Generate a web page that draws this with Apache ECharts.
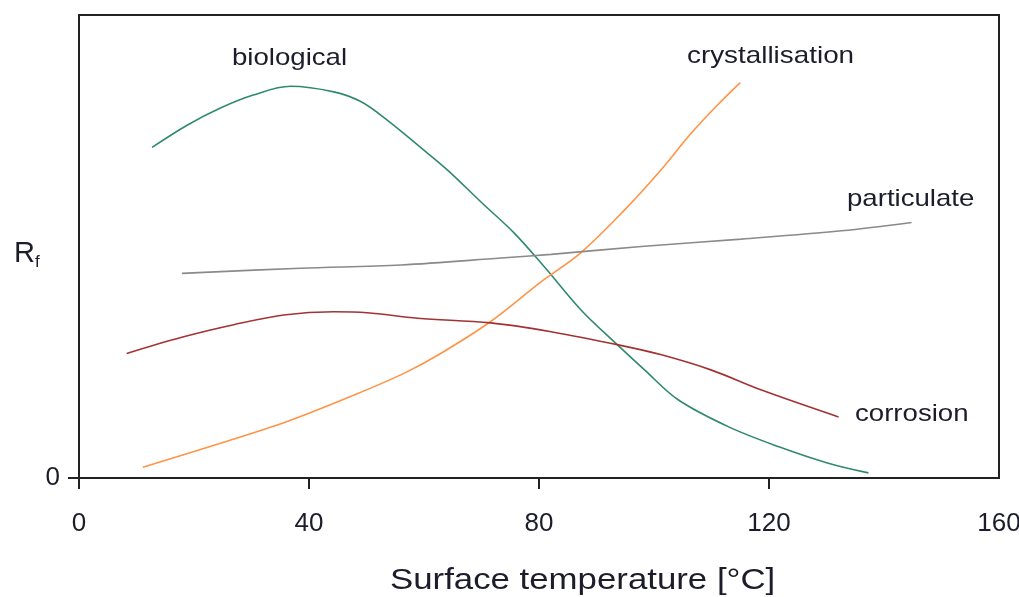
<!DOCTYPE html>
<html>
<head>
<meta charset="utf-8">
<script src="https://cdn.jsdelivr.net/npm/echarts@6/dist/echarts.min.js"></script>
<style>
  html, body { margin: 0; padding: 0; background: #fff; }
  #chart { width: 1019px; height: 597px; }
</style>
</head>
<body>
<div id="chart"></div>
<script>
// values: [temperature, Rf (relative, 0-100)]
var biological = [
  [12.7, 71.4], [18.8, 76.2], [24.6, 79.9], [30.3, 82.7], [36.8, 84.6],
  [44.3, 83.4], [49.0, 81.3], [53.6, 77.3], [59.4, 71.4], [64.1, 66.5], [70.0, 59.5],
  [75.7, 52.9], [81.0, 45.5], [87.3, 36.3], [93.7, 28.7], [98.4, 23.3], [104.2, 16.9],
  [112.9, 11.1], [121.6, 6.8], [130.3, 3.2], [137.3, 1.1]
];
var crystallisation = [
  [11.1, 2.3], [24.6, 7.5], [36.2, 12.2], [47.8, 17.9], [56.5, 22.6], [62.9, 26.9],
  [71.6, 33.8], [80.4, 42.4], [87.3, 48.7], [94.9, 57.9], [100.7, 65.8], [106.5, 74.5],
  [111.0, 80.5], [115.0, 85.4]
];
var particulate = [
  [17.9, 44.2], [38.5, 45.3], [56.0, 46.0], [73.4, 47.5], [82.1, 48.3], [97.8, 50.0],
  [115.2, 51.6], [132.6, 53.4], [144.8, 55.2]
];
var corrosion = [
  [8.3, 26.9], [18.2, 30.5], [26.9, 33.1], [35.6, 35.2], [44.3, 35.9], [50.1, 35.7],
  [58.9, 34.5], [71.6, 33.5], [82.1, 31.6], [94.0, 28.7], [101.3, 26.6], [110.0, 23.3],
  [118.7, 19.0], [132.1, 13.2]
];
var xTicks = [0, 40, 80, 120];
var yTicks = [0];

var chart = echarts.init(document.getElementById('chart'));
var txt = '#1c1c2a';
var font = '"Liberation Sans", Arial, sans-serif';

function line(name, data, color) {
  return {
    name: name,
    type: 'line',
    data: data,
    smooth: 0.35,
    showSymbol: false,
    symbol: 'none',
    lineStyle: { color: color, width: 1.6 },
    silent: true
  };
}

// text is a bit wider in the original, so stretch it horizontally
function label(text, x, y, size, sx) {
  return {
    type: 'text', x: x, y: y, scaleX: sx,
    style: { text: text, fontSize: size, fill: txt, fontFamily: font, align: 'left', verticalAlign: 'top' }
  };
}

var option = {
  animation: false,
  textStyle: { fontFamily: font },
  grid: {
    left: 79, right: 20, top: 15, bottom: 119,
    outerBoundsMode: 'none',
    show: true, borderColor: '#222', borderWidth: 2
  },
  xAxis: {
    type: 'value',
    min: 0, max: 160, interval: 40,
    axisLine: { show: true, lineStyle: { color: '#222', width: 2 } },
    axisTick: { show: true, customValues: xTicks, length: 11, lineStyle: { color: '#222', width: 2 } },
    axisLabel: { fontSize: 26, color: txt, margin: 33, fontFamily: font },
    splitLine: { show: false }
  },
  yAxis: {
    type: 'value',
    min: 0, max: 100, interval: 100,
    name: 'R{sub|f}',
    nameLocation: 'middle',
    nameRotate: 0,
    nameGap: 37,
    nameTextStyle: {
      fontSize: 29, color: txt, fontFamily: font, align: 'right', padding: [14, 0, 0, 0],
      rich: { sub: { fontSize: 17, color: txt, verticalAlign: 'bottom', padding: [18, 0, 0, 0] } }
    },
    axisLine: { show: true, lineStyle: { color: '#222', width: 2 } },
    axisTick: { show: true, customValues: yTicks, length: 11, lineStyle: { color: '#222', width: 2 } },
    axisLabel: { fontSize: 26, color: txt, margin: 19, customValues: yTicks, fontFamily: font },
    splitLine: { show: false }
  },
  series: [
    line('biological', biological, '#2f8a6c'),
    line('crystallisation', crystallisation, '#ff9448'),
    line('particulate', particulate, '#8a8a8a'),
    line('corrosion', corrosion, '#a33333')
  ],
  graphic: [
    label('biological', 232, 46, 24, 1.15),
    label('crystallisation', 687, 44, 24, 1.16),
    label('particulate', 847, 187, 24, 1.15),
    label('corrosion', 855, 402, 24, 1.15),
    label('Surface temperature [°C]', 390, 566, 29, 1.2)
  ]
};
chart.setOption(option);
window.addEventListener('resize', chart.resize);
</script>
</body>
</html>
